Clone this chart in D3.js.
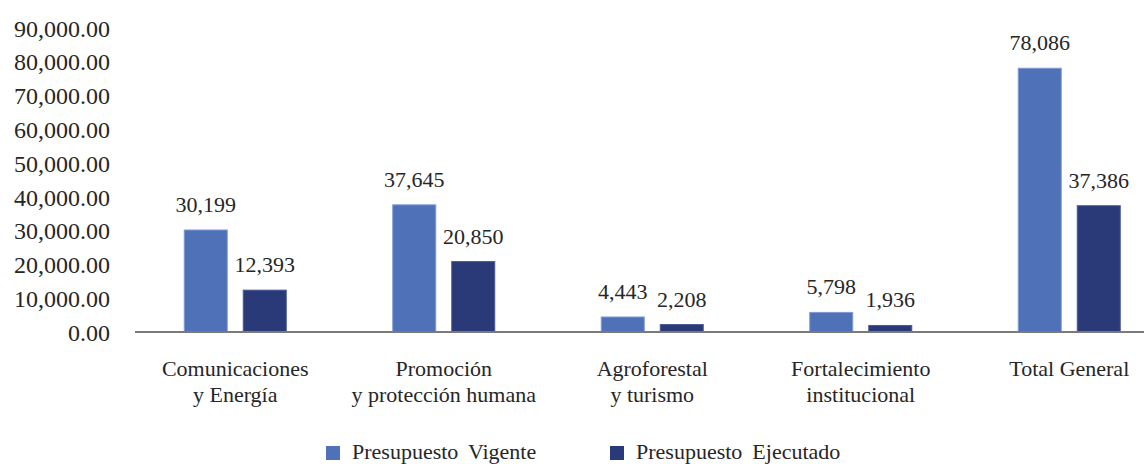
<!DOCTYPE html>
<html>
<head>
<meta charset="utf-8">
<script src="https://cdn.jsdelivr.net/npm/d3@7"></script>
<style>
  html, body { margin: 0; padding: 0; background: #fff; }
  svg { display: block; }
</style>
</head>
<body>
<svg id="chart" width="1144" height="464"></svg>
<script>
// Budget by programme area
const categories = [
  ["Comunicaciones", "y Energía"],
  ["Promoción", "y protección humana"],
  ["Agroforestal", "y turismo"],
  ["Fortalecimiento", "institucional"],
  ["Total General"]
];
const seriesNames = ["Presupuesto Vigente", "Presupuesto Ejecutado"];
const vigente = [30199, 37645, 4443, 5798, 78086];
const ejecutado = [12393, 20850, 2208, 1936, 37386];
const yTicks = [0, 10000, 20000, 30000, 40000, 50000, 60000, 70000, 80000, 90000];
const colors = ["#4E71B8", "#2A3A78"];
const strokes = ["#7f9bd3", "#4a5a96"];

const FONT = "Liberation Serif";
const INK = "#262626";

const svg = d3.select("#chart").style("font-family", FONT);
const baseY = 332, topY = 28;

const y = d3.scaleLinear().domain([0, 90000]).range([baseY, topY]);
const keys = categories.map((c, i) => i);
const x0 = d3.scaleBand().domain(keys).range([131, 1173.5]);
const bw = x0.bandwidth();
const x1 = d3.scaleBand().domain([0, 1])
  .range([bw / 2 - 51, bw / 2 + 51]).paddingInner(16 / 59);

// Y axis labels (no line, no ticks)
const yAxis = d3.axisLeft(y).tickValues(yTicks).tickSize(0).tickPadding(0)
  .tickFormat(d3.format(",.2f"));
const gy = svg.append("g").attr("transform", "translate(110,0)").call(yAxis);
gy.attr("font-family", FONT).attr("font-size", 24);
gy.select(".domain").remove();
gy.selectAll("text")
  .style("font-family", FONT).attr("font-family", FONT).attr("font-size", 24)
  .attr("fill", INK).attr("dy", "0.34em");

// Bars
const values = [vigente, ejecutado];
const groups = svg.append("g").selectAll("g").data(keys).join("g")
  .attr("transform", d => `translate(${x0(d)},0)`);

groups.selectAll("rect")
  .data(i => [0, 1].map(s => ({ s, v: values[s][i] })))
  .join("rect")
  .attr("x", d => x1(d.s))
  .attr("y", d => y(d.v))
  .attr("width", x1.bandwidth())
  .attr("height", d => baseY - y(d.v))
  .attr("fill", d => colors[d.s])
  .attr("stroke", d => strokes[d.s])
  .attr("stroke-width", 1);

// Value labels
groups.selectAll("text.val")
  .data(i => [0, 1].map(s => ({ s, v: values[s][i] })))
  .join("text")
  .attr("class", "val")
  .attr("x", d => x1(d.s) + x1.bandwidth() / 2)
  .attr("y", d => y(d.v) - 18)
  .attr("text-anchor", "middle")
  .attr("font-size", 22)
  .attr("fill", INK)
  .style("font-family", FONT)
  .text(d => d3.format(",")(d.v));

// Baseline
svg.append("line")
  .attr("x1", 135).attr("x2", 1144)
  .attr("y1", baseY).attr("y2", baseY)
  .attr("stroke", "#7a7a7a").attr("stroke-width", 2);

// Category labels
groups.append("text")
  .attr("x", bw / 2)
  .attr("text-anchor", "middle")
  .attr("font-size", 22)
  .attr("fill", INK)
  .style("font-family", FONT)
  .selectAll("tspan")
  .data(i => categories[i])
  .join("tspan")
  .attr("x", bw / 2)
  .attr("y", (d, j) => 376 + j * 26)
  .text(d => d);

// Legend
const legendX = [326, 610];
const lg = svg.append("g").selectAll("g").data(seriesNames).join("g")
  .attr("transform", (d, i) => `translate(${legendX[i]},446)`);
lg.append("rect").attr("width", 14).attr("height", 14)
  .attr("fill", (d, i) => colors[i]);
lg.append("text").attr("x", 26).attr("y", 13)
  .attr("font-size", 22).attr("word-spacing", 4.5)
  .attr("fill", INK)
  .style("font-family", FONT)
  .text(d => d);
</script>
</body>
</html>
